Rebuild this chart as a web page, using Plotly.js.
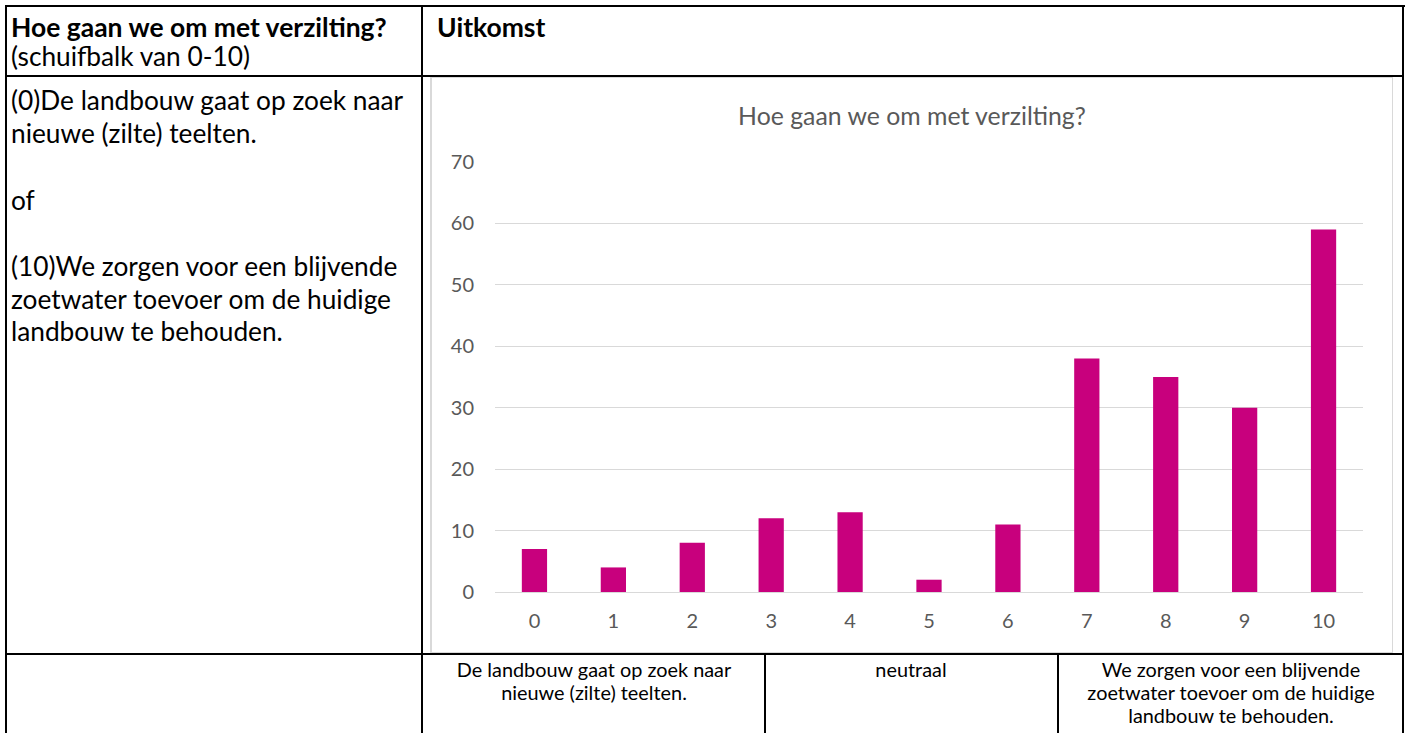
<!DOCTYPE html>
<html>
<head>
<meta charset="utf-8">
<script src="https://cdn.plot.ly/plotly-3.0.1.min.js"></script>
<style>
  html, body { margin:0; padding:0; background:#fff; width:1409px; height:733px; overflow:hidden; }
  .ln { position:absolute; background:#000; }
  .t { position:absolute; white-space:nowrap; color:#000; font-family:Lato, "Open Sans", sans-serif; line-height:1; }
  #frame { position:absolute; left:430px; top:77px; width:960px; height:574px; border:1px solid #d9d9d9; border-left-width:2px; background:#fff; }
  #chart { position:absolute; left:0; top:0; width:960px; height:574px; }
</style>
</head>
<body>
<div id="frame"><div id="chart"></div></div>
<div id="page"></div>
<script>
// ---- data ----
const categories = ["0","1","2","3","4","5","6","7","8","9","10"];
const counts = [7, 4, 8, 12, 13, 2, 11, 38, 35, 30, 59];
const yTicks = [0, 10, 20, 30, 40, 50, 60, 70];
const chartTitle = "Hoe gaan we om met verzilting?";
const headerLeft = ["Hoe gaan we om met verzilting?", "(schuifbalk van 0-10)"];
const headerRight = "Uitkomst";
const leftCellLines = ["(0)De landbouw gaat op zoek naar", "nieuwe (zilte) teelten.", "", "of", "", "(10)We zorgen voor een blijvende", "zoetwater toevoer om de huidige", "landbouw te behouden."];
const bottomLeft = ["De landbouw gaat op zoek naar", "nieuwe (zilte) teelten."];
const bottomMid = ["neutraal"];
const bottomRight = ["We zorgen voor een blijvende", "zoetwater toevoer om de huidige", "landbouw te behouden."];

// ---- font fitting helper (match reference text widths) ----
const cv = document.createElement("canvas").getContext("2d");
function fitSize(text, target, weight, family) {
  cv.font = (weight || "normal") + " 100px " + family;
  const w = cv.measureText(text).width;
  return 100 * target / w;
}
const FAM = "Lato";

// ---- table lines ----
const page = document.getElementById("page");
function line(x, y, w, h) {
  const d = document.createElement("div");
  d.className = "ln";
  d.style.left = x + "px"; d.style.top = y + "px";
  d.style.width = w + "px"; d.style.height = h + "px";
  page.appendChild(d);
}
line(5, 5, 1400, 2);      // top
line(5, 5, 2, 728);       // left
line(1402, 5, 2, 728);    // right
line(5, 75, 1399, 2);     // header bottom
line(421, 5, 2, 728);     // column divider
line(5, 653, 1399, 2);    // chart row bottom
line(764, 653, 2, 80);    // bottom row divider 1
line(1057, 653, 2, 80);   // bottom row divider 2

function text(str, x, yc, size, weight, align) {
  const d = document.createElement("div");
  d.className = "t";
  d.textContent = str;
  d.style.fontSize = size + "px";
  d.style.fontWeight = weight || "normal";
  d.style.top = (yc - size * 0.5) + "px";
  page.appendChild(d);
  const w = d.getBoundingClientRect().width;
  if (align === "center") d.style.left = (x - w / 2) + "px";
  else d.style.left = x + "px";
  return d;
}

// header
const hBold = fitSize(headerLeft[0], 377, "bold", FAM);
text(headerLeft[0], 11, 27, hBold, "bold");
const hReg = fitSize(leftCellLines[0], 393, "normal", FAM);
text(headerLeft[1], 11, 56, hReg, "normal");
text(headerRight, 437, 27, hBold, "bold");

// left cell
const lineYs = [100, 133, 166, 200, 233, 266, 299, 331];
leftCellLines.forEach((s, i) => { if (s) text(s, 11, lineYs[i], hReg, "normal"); });

// bottom row
const bSize = fitSize(bottomLeft[0], 275, "normal", FAM);
const bYs = [670, 693, 716];
bottomLeft.forEach((s, i) => text(s, 594, bYs[i], bSize, "normal", "center"));
bottomMid.forEach((s, i) => text(s, 911, bYs[i], bSize, "normal", "center"));
bottomRight.forEach((s, i) => text(s, 1231, bYs[i], bSize, "normal", "center"));

// ---- chart ----
const titleSize = fitSize(chartTitle, 349, "normal", FAM);
const tickSize = 20;
const grey = "#595959";

Plotly.newPlot("chart", [{
  type: "bar",
  x: categories,
  y: counts,
  marker: { color: "#C8007D" },
  hoverinfo: "x+y"
}], {
  width: 960, height: 574,
  margin: { l: 63, r: 29, t: 84, b: 60 },
  paper_bgcolor: "#fff", plot_bgcolor: "#fff",
  bargap: 0.68,
  showlegend: false,
  title: {
    text: chartTitle,
    font: { family: FAM, size: titleSize, color: grey },
    xref: "container", x: 0.5, xanchor: "center",
    yref: "container", y: 1 - 38 / 574, yanchor: "middle"
  },
  xaxis: {
    type: "category",
    tickfont: { family: FAM, size: tickSize, color: grey },
    showgrid: false, zeroline: false, showline: false, ticks: "",
    ticklabelstandoff: 15
  },
  yaxis: {
    range: [0, 70],
    tickvals: yTicks,
    tickfont: { family: FAM, size: tickSize, color: grey },
    showgrid: true, gridcolor: "#d9d9d9", gridwidth: 1,
    zeroline: true, zerolinecolor: "#d9d9d9", zerolinewidth: 1,
    showline: false, ticks: "",
    ticklabelstandoff: 20
  },
  font: { family: FAM, color: grey }
}, { displayModeBar: false, staticPlot: false });
</script>
</body>
</html>
